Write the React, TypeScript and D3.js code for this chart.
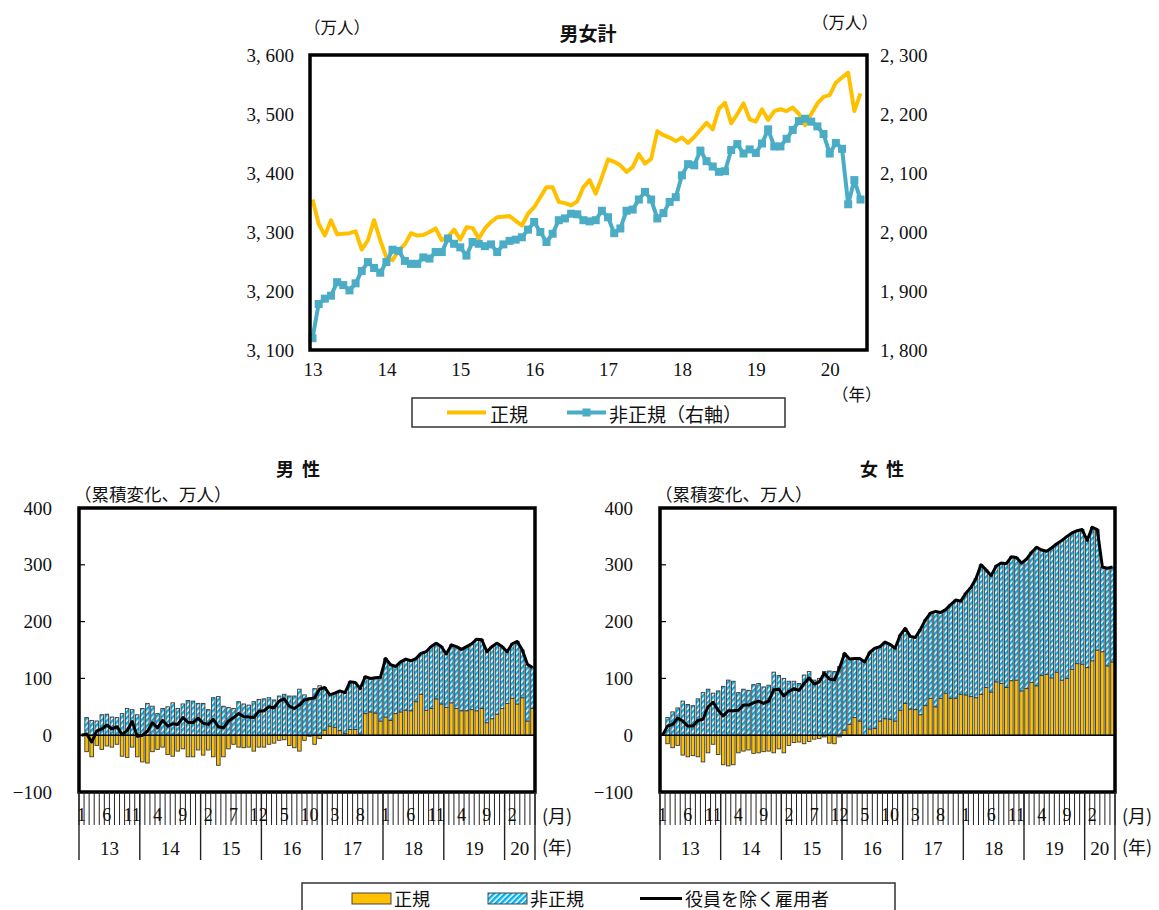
import React, { useEffect, useRef } from 'react';
import * as d3 from 'd3';

// 2013年1月〜2020年6月（月次, 90か月）
const yearLabels = ['13', '14', '15', '16', '17', '18', '19', '20'];
const monthTickLabels = ['1', '6', '11', '4', '9', '2', '7', '12', '5', '10', '3', '8', '1', '6', '11', '4', '9', '2'];

// 男女計（万人）
const regularTotal = [
  3355, 3314, 3294, 3320, 3296, 3297, 3298, 3301, 3270, 3286,
  3320, 3286, 3257, 3252, 3269, 3279, 3298, 3294, 3295, 3300,
  3306, 3286, 3292, 3304, 3287, 3308, 3307, 3289, 3306, 3317,
  3325, 3326, 3327, 3319, 3311, 3331, 3342, 3359, 3376, 3376,
  3351, 3349, 3345, 3352, 3376, 3388, 3365, 3393, 3423, 3419,
  3413, 3402, 3410, 3432, 3416, 3424, 3471, 3464, 3460, 3454,
  3460, 3451, 3461, 3473, 3485, 3474, 3509, 3519, 3484, 3500,
  3518, 3491, 3487, 3508, 3490, 3505, 3508, 3505, 3511, 3500,
  3481, 3500, 3518, 3529, 3532, 3553, 3562, 3570, 3505, 3535
];
const nonRegularTotal = [
  1820, 1878, 1887, 1892, 1915, 1910, 1901, 1913, 1934, 1949,
  1939, 1931, 1949, 1970, 1968, 1951, 1946, 1946, 1957, 1955,
  1966, 1966, 1989, 1980, 1974, 1960, 1983, 1980, 1976, 1979,
  1966, 1979, 1985, 1987, 1991, 2004, 2017, 2000, 1983, 1997,
  2020, 2023, 2031, 2030, 2020, 2018, 2020, 2036, 2025, 1998,
  2006, 2036, 2038, 2055, 2068, 2055, 2023, 2032, 2051, 2059,
  2096, 2115, 2113, 2138, 2120, 2111, 2102, 2103, 2139, 2149,
  2133, 2140, 2134, 2150, 2174, 2145, 2145, 2158, 2173, 2188,
  2192, 2187, 2179, 2166, 2133, 2151, 2141, 2047, 2088, 2055
];

// 男性 累積変化（万人）
const menRegular = [
  0, -29, -38, -18, -25, -19, -21, -16, -37, -39,
  -21, -38, -47, -49, -29, -25, -21, -34, -37, -28,
  -24, -38, -38, -26, -35, -26, -38, -53, -38, -24,
  -16, -21, -22, -21, -28, -21, -21, -16, -14, -9,
  -8, -18, -22, -28, -9, -2, -16, -6, 9, 16,
  14, 8, 3, 10, 10, 2, 38, 41, 39, 25,
  32, 26, 38, 41, 44, 43, 59, 72, 44, 47,
  64, 55, 49, 57, 47, 43, 43, 45, 43, 47,
  22, 29, 37, 47, 56, 65, 55, 66, 25, 47
];
const menNonRegular = [
  0, 31, 26, 25, 36, 37, 32, 31, 38, 47,
  45, 36, 47, 56, 51, 38, 47, 50, 57, 47,
  55, 61, 60, 56, 56, 45, 66, 68, 51, 49,
  47, 59, 55, 53, 59, 63, 64, 66, 62, 69,
  72, 69, 69, 81, 71, 66, 82, 87, 75, 55,
  60, 70, 72, 84, 83, 80, 65, 59, 62, 77,
  103, 98, 83, 88, 90, 88, 76, 72, 103, 109,
  98, 101, 94, 102, 109, 108, 113, 116, 126, 121,
  125, 127, 125, 109, 91, 96, 110, 84, 100, 72
];

// 女性 累積変化（万人）
const womenRegular = [
  0, -15, -22, -18, -35, -38, -36, -38, -47, -31,
  -16, -34, -52, -54, -52, -31, -28, -26, -32, -31,
  -29, -28, -31, -24, -31, -18, -13, -12, -15, -11,
  -7, -6, -3, -14, -15, -3, 9, 19, 31, 25,
  0, 11, 12, 25, 29, 28, 25, 44, 56, 46,
  45, 36, 52, 65, 50, 65, 74, 65, 65, 72,
  71, 68, 66, 72, 84, 76, 94, 91, 84, 96,
  97, 78, 82, 93, 87, 105, 107, 101, 111, 97,
  100, 116, 126, 125, 119, 131, 150, 147, 122, 129
];
const womenNonRegular = [
  0, 31, 41, 48, 60, 54, 52, 64, 75, 81,
  74, 78, 86, 97, 95, 75, 81, 79, 89, 91,
  85, 88, 111, 105, 100, 95, 95, 91, 106, 112,
  97, 100, 112, 113, 112, 121, 135, 115, 104, 110,
  129, 135, 141, 131, 135, 132, 128, 132, 132, 128,
  127, 150, 151, 150, 168, 151, 147, 165, 173, 164,
  179, 192, 210, 228, 207, 205, 204, 212, 218, 218,
  216, 225, 228, 229, 244, 221, 217, 229, 226, 246,
  250, 240, 234, 237, 224, 235, 212, 149, 172, 167
];

const W = 1159;
const H = 910;
const SERIF = '"Liberation Serif", "DejaVu Serif", serif';
const JP = '"Noto Sans CJK JP", "Noto Sans", sans-serif';
const YELLOW = '#FFC000';
const TEAL = '#4BACC6';
const HATCH_BLUE = '#00B0F0';

const fmtComma = v => d3.format(',')(v).replace(',', ', ');

const addText = (g, x, y, txt, opts = {}) =>
  g
    .append('text')
    .attr('x', x)
    .attr('y', y)
    .attr('text-anchor', opts.anchor || 'start')
    .attr('dominant-baseline', 'central')
    .attr('font-family', opts.family || JP)
    .attr('font-weight', opts.weight || 'normal')
    .attr('font-size', opts.size || 17)
    .attr('fill', '#111')
    .text(txt);

const drawTop = svg => {
  const plot = { l: 310, r: 867, t: 55, b: 350 };
  const n = regularTotal.length;

  const x = d3.scaleLinear().domain([0, n - 1]).range([312.5, 860.5]);
  const yL = d3.scaleLinear().domain([3100, 3600]).range([plot.b, plot.t]);
  const yR = d3.scaleLinear().domain([1800, 2300]).range([plot.b, plot.t]);

  const g = svg.append('g').attr('class', 'topg');

  // axes (labels only)
  const leftAx = g
    .append('g')
    .attr('transform', `translate(${plot.l},0)`)
    .call(d3.axisLeft(yL).tickValues(d3.range(3100, 3601, 100)).tickFormat(fmtComma).tickSize(0).tickPadding(16));
  const rightAx = g
    .append('g')
    .attr('transform', `translate(${plot.r},0)`)
    .call(d3.axisRight(yR).tickValues(d3.range(1800, 2301, 100)).tickFormat(fmtComma).tickSize(0).tickPadding(13));
  const bottomAx = g
    .append('g')
    .attr('transform', `translate(0,${plot.b})`)
    .call(
      d3
        .axisBottom(x)
        .tickValues(yearLabels.map((d, i) => i * 12))
        .tickFormat((d, i) => yearLabels[i])
        .tickSize(0)
        .tickPadding(13)
    );
  [leftAx, rightAx, bottomAx].forEach(a => {
    a.select('.domain').remove();
    a.attr('font-family', SERIF).attr('font-size', 19);
    a.selectAll('text').attr('fill', '#111');
  });

  const lineL = d3
    .line()
    .x((d, i) => x(i))
    .y(d => yL(d));
  const lineR = d3
    .line()
    .x((d, i) => x(i))
    .y(d => yR(d));

  g.append('path')
    .attr('d', lineL(regularTotal))
    .attr('fill', 'none')
    .attr('stroke', YELLOW)
    .attr('stroke-width', 4)
    .attr('stroke-linejoin', 'round');

  g.append('path')
    .attr('d', lineR(nonRegularTotal))
    .attr('fill', 'none')
    .attr('stroke', TEAL)
    .attr('stroke-width', 4)
    .attr('stroke-linejoin', 'round');

  g.selectAll('.nr-marker')
    .data(nonRegularTotal)
    .join('rect')
    .attr('class', 'nr-marker')
    .attr('x', (d, i) => x(i) - 4)
    .attr('y', d => yR(d) - 4)
    .attr('width', 8)
    .attr('height', 8)
    .attr('fill', TEAL);

  g.append('rect')
    .attr('x', plot.l)
    .attr('y', plot.t)
    .attr('width', plot.r - plot.l)
    .attr('height', plot.b - plot.t)
    .attr('fill', 'none')
    .attr('stroke', '#000')
    .attr('stroke-width', 3.5);

  // titles
  addText(g, 588, 32, '男女計', { anchor: 'middle', weight: 'bold', size: 19 });
  addText(g, 304, 27, '（万人）', { size: 16.5 });
  addText(g, 812, 22, '（万人）', { size: 16.5 });
  addText(g, 832, 394, '（年）', { size: 16.5 });

  // legend
  const lg = g.append('g').attr('class', 'legend-top');
  lg.append('rect')
    .attr('x', 412)
    .attr('y', 398)
    .attr('width', 373)
    .attr('height', 29)
    .attr('fill', '#fff')
    .attr('stroke', '#333')
    .attr('stroke-width', 1.5);
  lg.append('line')
    .attr('x1', 447)
    .attr('x2', 486)
    .attr('y1', 412.5)
    .attr('y2', 412.5)
    .attr('stroke', YELLOW)
    .attr('stroke-width', 4);
  addText(lg, 490, 413, '正規', { size: 19 });
  lg.append('line')
    .attr('x1', 567)
    .attr('x2', 606)
    .attr('y1', 412.5)
    .attr('y2', 412.5)
    .attr('stroke', TEAL)
    .attr('stroke-width', 4);
  lg.append('rect')
    .attr('x', 582.5)
    .attr('y', 408.5)
    .attr('width', 8)
    .attr('height', 8)
    .attr('fill', TEAL);
  addText(lg, 609, 413, '非正規（右軸）', { size: 19 });
};

const drawPanel = (svg, cfg) => {
  const { left, right, title, titleX, regular, nonRegular } = cfg;
  const top = 508;
  const bottom = 792;
  const n = regular.length;

  const rows = d3.range(n).map(i => ({ i, reg: regular[i], non: nonRegular[i] }));

  const x = d3
    .scaleBand()
    .domain(d3.range(n))
    .range([left, right])
    .paddingInner(0.3)
    .paddingOuter(0.15);
  const step = x.step();
  const bw = x.bandwidth();
  const y = d3.scaleLinear().domain([-100, 400]).range([bottom, top]);

  const stack = d3
    .stack()
    .keys(['reg', 'non'])
    .offset(d3.stackOffsetDiverging);
  const series = stack(rows);

  const g = svg.append('g').attr('class', 'panel');

  // y axis labels
  const yAx = g
    .append('g')
    .attr('transform', `translate(${left},0)`)
    .call(
      d3
        .axisLeft(y)
        .tickValues(d3.range(-100, 401, 100))
        .tickFormat(d => (d < 0 ? '−' + Math.abs(d) : d))
        .tickSize(0)
        .tickPadding(27)
    );
  yAx.select('.domain').remove();
  yAx.attr('font-family', SERIF).attr('font-size', 19);
  yAx.selectAll('text').attr('fill', '#111');

  // inner tick marks
  g.selectAll('.inner-tick')
    .data([100, 200, 300])
    .join('line')
    .attr('class', 'inner-tick')
    .attr('x1', left)
    .attr('x2', left + 6)
    .attr('y1', d => y(d))
    .attr('y2', d => y(d))
    .attr('stroke', '#000')
    .attr('stroke-width', 1.2);

  const colors = { reg: YELLOW, non: 'url(#hatch)' };
  series.forEach(s => {
    g.append('g')
      .selectAll('rect')
      .data(s.filter(d => d[1] - d[0] !== 0))
      .join('rect')
      .attr('x', d => x(d.data.i))
      .attr('width', bw)
      .attr('y', d => y(Math.max(d[0], d[1])))
      .attr('height', d => Math.abs(y(d[0]) - y(d[1])))
      .attr('fill', colors[s.key])
      .attr('stroke', '#3a3a3a')
      .attr('stroke-width', 0.9);
  });

  // zero line
  g.append('line')
    .attr('x1', left)
    .attr('x2', right)
    .attr('y1', y(0))
    .attr('y2', y(0))
    .attr('stroke', '#000')
    .attr('stroke-width', 1.6);

  // 役員を除く雇用者
  const totalLine = d3
    .line()
    .x(d => x(d.i) + bw / 2)
    .y(d => y(d.reg + d.non));
  g.append('path')
    .attr('d', totalLine(rows))
    .attr('fill', 'none')
    .attr('stroke', '#000')
    .attr('stroke-width', 3)
    .attr('stroke-linejoin', 'round');

  g.append('rect')
    .attr('x', left)
    .attr('y', top)
    .attr('width', right - left)
    .attr('height', bottom - top)
    .attr('fill', 'none')
    .attr('stroke', '#000')
    .attr('stroke-width', 3.5);

  // category axis: month ticks, year separators
  const ax = g.append('g').attr('class', 'cat-axis');
  ax.selectAll('.mtick')
    .data(d3.range(n + 1))
    .join('line')
    .attr('class', 'mtick')
    .attr('x1', k => left + k * step)
    .attr('x2', k => left + k * step)
    .attr('y1', bottom)
    .attr('y2', 825)
    .attr('stroke', '#222')
    .attr('stroke-width', 1);
  const yearStarts = yearLabels.map((d, i) => i * 12);
  ax.selectAll('.ytick')
    .data([...yearStarts, n])
    .join('line')
    .attr('class', 'ytick')
    .attr('x1', k => left + k * step)
    .attr('x2', k => left + k * step)
    .attr('y1', bottom)
    .attr('y2', 860)
    .attr('stroke', '#222')
    .attr('stroke-width', 1.4);
  ax.selectAll('.mlabel')
    .data(monthTickLabels)
    .join('text')
    .attr('class', 'mlabel')
    .attr('x', (d, k) => x(k * 5) + bw / 2)
    .attr('y', 815)
    .attr('text-anchor', 'middle')
    .attr('dominant-baseline', 'central')
    .attr('font-family', SERIF)
    .attr('font-size', 18)
    .attr('fill', '#111')
    .text(d => d);
  ax.selectAll('.ylabel')
    .data(yearLabels)
    .join('text')
    .attr('class', 'ylabel')
    .attr('x', (d, i) => left + step * ((yearStarts[i] + Math.min(yearStarts[i] + 12, n)) / 2))
    .attr('y', 848)
    .attr('text-anchor', 'middle')
    .attr('dominant-baseline', 'central')
    .attr('font-family', SERIF)
    .attr('font-size', 19)
    .attr('fill', '#111')
    .text(d => d);

  addText(ax, right + 7, 815, '(月)', { size: 18 });
  addText(ax, right + 7, 846, '(年)', { size: 18 });

  addText(g, titleX, 468, title, { anchor: 'middle', weight: 'bold', size: 18 }).attr('xml:space', 'preserve');
  addText(g, left - 5, 493, '（累積変化、万人）', { size: 17.5 });
};

const drawBottomLegend = svg => {
  const g = svg.append('g').attr('class', 'legend-bottom');
  g.append('rect')
    .attr('x', 302)
    .attr('y', 883)
    .attr('width', 593)
    .attr('height', 40)
    .attr('fill', '#fff')
    .attr('stroke', '#333')
    .attr('stroke-width', 1.5);
  g.append('rect')
    .attr('x', 352)
    .attr('y', 893)
    .attr('width', 39)
    .attr('height', 11)
    .attr('fill', YELLOW)
    .attr('stroke', '#444')
    .attr('stroke-width', 1);
  addText(g, 394, 898, '正規', { size: 18 });
  g.append('rect')
    .attr('x', 488)
    .attr('y', 893)
    .attr('width', 39)
    .attr('height', 11)
    .attr('fill', 'url(#hatch)')
    .attr('stroke', '#444')
    .attr('stroke-width', 1);
  addText(g, 530, 898, '非正規', { size: 18 });
  g.append('line')
    .attr('x1', 640)
    .attr('x2', 682)
    .attr('y1', 898.5)
    .attr('y2', 898.5)
    .attr('stroke', '#000')
    .attr('stroke-width', 3);
  addText(g, 685, 898, '役員を除く雇用者', { size: 18 });
};

const App = () => {
  const container = useRef(null);

  useEffect(() => {
    document.body.style.margin = '0';
    document.body.style.overflow = 'hidden';

    const svg = d3.select(container.current);
    svg.selectAll('*').remove();

    const defs = svg.append('defs');
    const pat = defs
      .append('pattern')
      .attr('id', 'hatch')
      .attr('patternUnits', 'userSpaceOnUse')
      .attr('width', 4)
      .attr('height', 4)
      .attr('patternTransform', 'rotate(45)');
    pat.append('rect').attr('width', 4).attr('height', 4).attr('fill', '#fff');
    pat.append('rect').attr('width', 2.5).attr('height', 4).attr('fill', HATCH_BLUE);

    svg.append('rect').attr('width', W).attr('height', H).attr('fill', '#fff');

    drawTop(svg);
    drawPanel(svg, {
      left: 79,
      right: 535,
      title: '男  性',
      titleX: 298,
      regular: menRegular,
      nonRegular: menNonRegular
    });
    drawPanel(svg, {
      left: 660,
      right: 1115,
      title: '女  性',
      titleX: 882,
      regular: womenRegular,
      nonRegular: womenNonRegular
    });
    drawBottomLegend(svg);
  }, []);

  return <svg ref={container} width={W} height={H} style={{ display: 'block' }} />;
};

export default App;
